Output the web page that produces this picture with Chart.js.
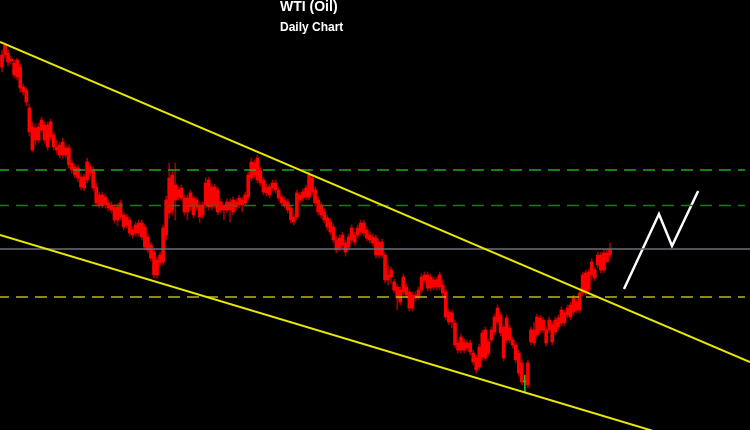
<!DOCTYPE html>
<html>
<head>
<meta charset="utf-8">
<script src="https://cdn.jsdelivr.net/npm/chart.js@4"></script>
<style>
html, body { margin: 0; padding: 0; background: #000; }
canvas { display: block; }
</style>
</head>
<body>
<canvas id="myChart" width="750" height="430"></canvas>
<script>
var title = 'WTI (Oil)';
var subtitle = 'Daily Chart';

// daily candles: [open, high, low, close]
var candles = [
    [93.3,95.0,92.8,94.5], [94.5,95.7,94.2,95.5], [94.7,95.0,93.4,93.8], [94.1,94.4,93.6,93.9], [93.7,94.0,92.2,92.5],
    [92.3,94.2,92.0,94.0], [93.3,93.6,90.8,91.2], [91.3,91.6,90.5,90.8], [91.0,91.2,89.4,89.8], [89.2,89.6,86.4,86.8],
    [87.3,87.8,84.8,85.0], [86.0,87.6,85.5,87.2], [86.0,87.7,85.7,87.3], [87.0,88.3,86.7,88.0], [87.5,87.8,85.7,86.0],
    [85.3,87.8,85.0,87.5], [87.8,88.1,86.0,86.3], [86.5,86.8,85.0,85.3], [85.3,86.0,84.6,85.0], [85.5,85.8,84.2,84.5],
    [84.5,86.2,84.2,85.8], [85.2,85.5,84.2,84.5], [85.2,85.5,83.2,83.5], [83.7,84.0,82.7,83.0], [83.3,83.6,82.2,82.5],
    [82.2,83.5,81.8,83.2], [82.3,82.6,81.0,81.3], [81.2,82.6,80.9,82.3], [82.0,84.2,81.7,83.8], [83.3,83.6,82.4,82.7],
    [83.0,83.3,80.9,81.2], [81.3,81.7,79.4,79.7], [80.5,80.8,79.2,79.5], [79.5,80.8,79.2,80.5], [80.3,80.6,79.2,79.5],
    [79.7,80.0,78.9,79.2], [79.5,79.8,78.7,79.0], [79.3,79.6,77.7,78.0], [78.0,79.6,77.4,79.3], [79.7,80.0,78.0,78.3],
    [78.5,78.8,77.0,77.3], [77.5,78.6,77.2,78.3], [78.0,78.3,76.4,76.7], [77.0,77.3,76.2,76.5], [76.7,77.8,76.4,77.5],
    [77.7,78.0,76.4,76.7], [76.3,78.0,76.0,77.7], [77.3,77.6,75.0,75.3], [76.3,76.6,74.7,75.0], [75.5,75.8,73.9,74.2],
    [74.8,75.1,72.2,72.5], [72.5,74.3,72.2,74.0], [73.7,74.8,73.4,74.5], [73.8,77.5,73.5,77.2], [76.5,80.4,76.0,80.0],
    [78.7,83.7,78.2,82.2], [79.0,83.0,78.5,82.5], [81.5,83.7,78.0,80.0], [80.3,81.4,80.0,81.0], [81.2,81.5,79.9,80.2],
    [80.2,80.5,78.5,78.8], [78.8,80.5,78.0,80.2], [79.3,81.0,79.0,80.7], [80.2,80.5,78.2,78.5], [79.3,80.3,79.0,80.0],
    [79.5,79.8,77.8,78.3], [78.5,79.8,78.2,79.5], [79.5,82.2,79.2,81.7], [82.0,82.3,79.0,79.3], [79.3,81.6,79.0,81.3],
    [81.3,81.6,79.2,79.5], [81.0,81.3,78.5,78.8], [79.8,80.1,78.7,79.0], [79.0,79.5,78.0,79.5], [79.8,80.1,78.7,79.0],
    [79.0,80.1,77.8,79.8], [80.0,80.3,78.5,78.8], [79.3,80.1,79.0,79.8], [79.5,80.5,79.2,80.2], [80.0,80.3,78.8,79.5],
    [79.7,80.8,79.4,80.5], [80.3,82.8,80.0,82.5], [82.2,84.2,81.9,83.8], [83.7,84.0,82.2,82.5], [82.0,84.5,81.7,84.2],
    [83.0,83.3,81.4,81.7], [82.0,82.3,80.5,80.8], [81.3,81.6,80.4,80.7], [80.5,81.6,80.2,81.3], [81.2,82.0,80.9,81.7],
    [81.7,82.0,80.7,81.0], [81.0,81.3,79.9,80.2], [80.3,80.6,79.4,79.7], [80.0,80.3,79.2,79.5], [79.8,80.1,78.7,79.0],
    [79.2,79.5,77.7,78.0], [78.3,78.6,77.5,77.8], [78.3,81.0,78.0,80.7], [80.5,80.8,79.7,80.0], [80.2,81.1,79.9,80.8],
    [80.3,81.5,80.0,81.2], [80.3,83.0,80.0,82.5], [82.2,82.5,80.5,80.8], [81.0,81.3,79.4,79.7], [80.0,80.3,78.5,78.8],
    [79.5,79.8,78.2,78.5], [78.8,79.1,77.7,78.0], [78.2,78.5,77.0,77.3], [77.8,78.1,76.5,76.8], [77.3,77.6,75.7,76.0],
    [76.0,76.4,74.7,75.0], [75.2,76.5,74.9,76.2], [76.5,76.8,75.2,75.5], [75.7,76.0,74.4,74.8], [75.3,76.6,75.0,76.3],
    [76.0,77.5,75.7,77.2], [76.5,76.8,75.5,75.8], [76.5,77.5,76.2,77.2], [76.8,78.0,76.5,77.7], [77.7,78.0,76.4,76.7],
    [77.0,77.3,75.9,76.2], [76.5,76.8,75.7,76.0], [76.3,76.6,75.4,75.7], [76.2,76.5,74.2,74.5], [74.5,76.1,74.2,75.8],
    [75.8,76.1,74.2,74.5], [74.5,74.8,71.7,72.0], [72.0,73.5,71.5,72.5], [72.3,73.3,71.7,73.0], [71.8,72.1,70.7,71.0],
    [71.3,71.6,69.0,70.2], [69.8,71.3,69.5,71.0], [70.8,72.6,70.5,72.3], [71.3,71.6,70.2,70.5], [70.8,71.1,68.9,69.2],
    [69.2,70.8,68.9,70.5], [70.5,70.8,69.9,70.2], [70.3,71.3,70.0,71.0], [71.0,72.6,70.7,72.3], [72.0,72.8,71.7,72.5],
    [72.5,72.8,70.9,71.2], [71.2,72.6,70.9,72.3], [72.0,72.3,71.0,71.3], [71.3,72.3,71.0,72.0], [71.3,72.8,71.0,72.5],
    [71.5,72.0,70.4,70.7], [70.8,71.1,68.0,68.3], [68.8,69.1,67.5,67.8], [67.8,69.0,67.2,68.7], [67.7,68.0,65.2,65.5],
    [65.7,66.0,64.7,65.0], [65.0,66.6,64.7,66.3], [65.8,66.1,64.7,65.0], [65.2,66.0,64.9,65.7], [65.7,66.0,64.5,64.8],
    [64.7,65.0,63.5,63.8], [64.2,64.5,62.7,63.0], [63.3,65.6,63.0,65.3], [64.3,67.0,64.0,66.7], [67.0,67.3,63.9,64.2],
    [64.7,66.1,64.4,65.8], [66.0,67.3,65.7,67.0], [66.8,68.6,66.5,68.3], [67.8,69.5,67.5,69.2], [68.5,68.8,66.4,66.7],
    [67.3,67.6,63.9,64.2], [66.0,68.5,65.7,68.2], [67.2,67.5,65.7,66.0], [66.0,66.3,65.2,65.5], [65.5,65.8,63.7,64.0],
    [64.7,65.0,62.4,62.7], [63.7,64.0,61.5,61.8], [61.8,62.5,60.7,61.8], [61.5,64.0,61.2,63.7], [65.8,67.3,65.5,67.0],
    [67.0,67.8,65.4,65.7], [66.5,68.6,66.2,68.3], [68.2,68.5,66.7,67.0], [67.0,68.3,66.7,68.0], [67.0,67.3,65.4,65.7],
    [67.0,68.3,66.7,68.0], [67.5,67.8,65.5,65.8], [66.8,68.3,66.5,68.0], [67.3,68.5,67.0,68.2], [67.7,69.3,67.4,69.0],
    [68.7,69.0,67.4,67.7], [68.5,69.5,68.2,69.2], [69.5,69.8,68.0,68.3], [68.8,70.5,68.5,70.2], [69.8,70.1,68.7,69.0],
    [69.0,71.0,68.7,70.7], [70.7,72.8,70.4,72.5], [72.7,73.0,70.5,70.8], [71.0,73.1,70.7,72.8], [72.5,74.1,72.0,73.8],
    [73.0,73.3,71.9,72.2], [73.5,74.8,73.2,74.5], [74.5,74.8,72.7,73.0], [73.0,75.0,72.7,74.7], [74.7,75.0,73.8,73.8],
    [74.5,75.7,74.2,75.0]
];

// trend channel ends [day, price]
var upperChannel = [[-0.66, 95.8], [246.05, 63.8]];
var lowerChannel = [[-0.66, 76.5], [246.05, 54.0]];

// horizontal levels
var resistanceHigh = 83.0;
var resistanceLow = 79.45;
var pivotLevel = 75.1;
var supportLevel = 70.3;

// projected path [day, price]
var projection = [[204.6, 71.1], [216.1, 78.6], [220.4, 75.4], [229.0, 80.9]];

var xMin = -0.66, xMax = 246.05;

function pts(arr) {
    return arr.map(function (p) { return { x: p[0], y: p[1] }; });
}
function hline(v, x1) {
    return [{ x: xMin - 1, y: v }, { x: x1, y: v }];
}
function isDoji(i) {
    return candles[i][0] === candles[i][3];
}

var wicks = candles.map(function (c, i) { return { x: i, y: [c[2], c[1]] }; });
var bodies = candles.map(function (c, i) { return { x: i, y: [c[0], c[3]] }; });

var titlePlugin = {
    id: 'titleText',
    afterDraw: function (chart) {
        var c = chart.ctx;
        c.save();
        c.fillStyle = '#ffffff';
        c.textAlign = 'left';
        c.textBaseline = 'alphabetic';
        c.font = 'bold 14px "Liberation Sans", Arial, sans-serif';
        c.fillText(title, 280, 11);
        c.font = 'bold 12px "Liberation Sans", Arial, sans-serif';
        c.fillText(subtitle, 280, 31);
        c.restore();
    }
};

var ctx = document.getElementById('myChart');
var myChart = new Chart(ctx, {
    type: 'bar',
    data: {
        datasets: [
            {
                type: 'line', data: pts(upperChannel), borderColor: '#e8e800', borderWidth: 2,
                pointRadius: 0, fill: false, order: 0
            },
            {
                type: 'line', data: pts(lowerChannel), borderColor: '#e8e800', borderWidth: 2,
                pointRadius: 0, fill: false, order: 0
            },
            {
                type: 'line', data: hline(resistanceHigh, 244.4), borderColor: '#22a622', borderWidth: 1.5,
                borderDash: [12, 7], pointRadius: 0, fill: false, order: 0
            },
            {
                type: 'line', data: hline(resistanceLow, 244.4), borderColor: '#1f7a1f', borderWidth: 1.5,
                borderDash: [12, 7], pointRadius: 0, fill: false, order: 0
            },
            {
                type: 'line', data: hline(pivotLevel, xMax + 1), borderColor: '#6b6f7a', borderWidth: 1.5,
                pointRadius: 0, fill: false, order: 0
            },
            {
                type: 'line', data: hline(supportLevel, 244.4), borderColor: '#b8b820', borderWidth: 1.5,
                borderDash: [12, 7], pointRadius: 0, fill: false, order: 0
            },
            {
                type: 'line', data: pts(projection), borderColor: '#ffffff', borderWidth: 2.5,
                pointRadius: 0, fill: false, tension: 0, order: 0
            },
            {
                data: wicks, barThickness: 1, grouped: false, borderWidth: 0, minBarLength: 1,
                backgroundColor: function (c) { return isDoji(c.dataIndex) ? '#22c022' : '#a00000'; },
                order: 2
            },
            {
                data: bodies, barThickness: 3, grouped: false, borderWidth: 0, minBarLength: 1,
                backgroundColor: function (c) { return isDoji(c.dataIndex) ? '#22c022' : '#ff0000'; },
                order: 1
            }
        ]
    },
    options: {
        responsive: false,
        animation: false,
        layout: { padding: 0 },
        plugins: { legend: { display: false }, tooltip: { enabled: false } },
        scales: {
            x: { type: 'linear', min: xMin, max: xMax, offset: false, display: false },
            y: { min: 57, max: 100, display: false }
        }
    },
    plugins: [titlePlugin]
});
</script>
</body>
</html>
